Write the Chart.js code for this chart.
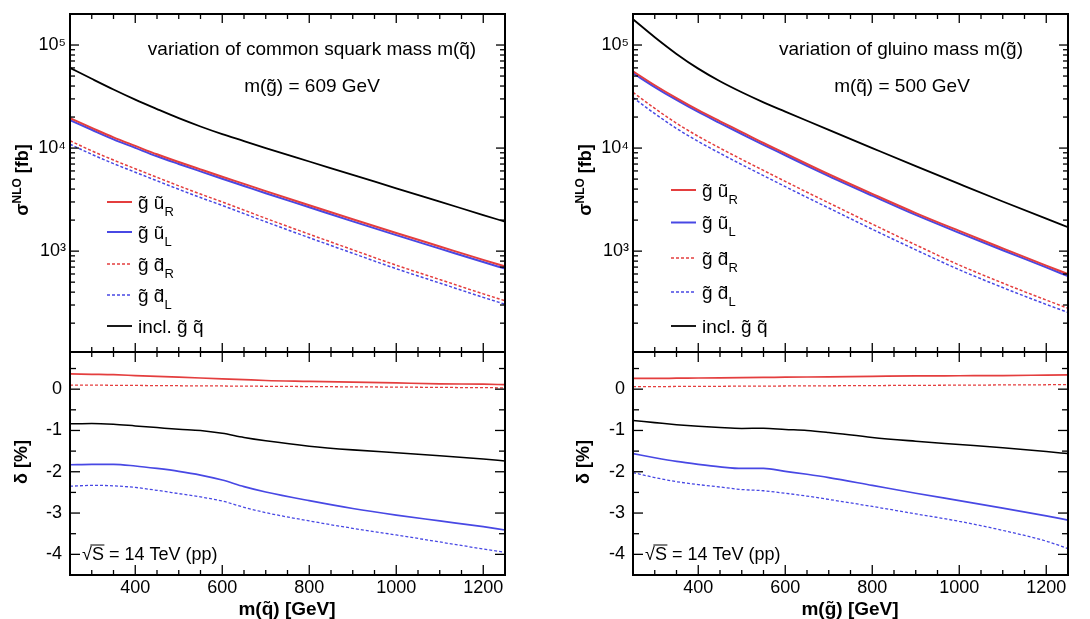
<!DOCTYPE html>
<html><head><meta charset="utf-8">
<script src="https://cdn.jsdelivr.net/npm/chart.js@4.4.1/dist/chart.umd.min.js"></script>
<style>
html,body{margin:0;padding:0;background:#fff;}
#wrap{position:relative;width:1090px;height:619px;overflow:hidden;background:#fff;}
canvas{position:absolute;}
</style></head><body>
<div id="wrap">
<canvas id="ul" width="545" height="360" style="left:0;top:0"></canvas>
<canvas id="ur" width="545" height="360" style="left:545px;top:0"></canvas>
<canvas id="ll" width="545" height="267" style="left:0;top:352px"></canvas>
<canvas id="lr" width="545" height="267" style="left:545px;top:352px"></canvas>
</div>
<script>
// ---------- data ----------
const massGeV = [250,300,350,400,450,500,550,600,650,700,800,900,1000,1100,1200,1250];

// sigma NLO [fb], variation of squark mass, m(gluino)=609 GeV
const sqUR   = [19500,15700,12700,10500,8700,7330,6210,5270,4490,3820,2790,2040,1500,1110,822,711];
const sqUL   = [18700,15050,12150,10050,8320,7010,5940,5040,4290,3650,2665,1945,1430,1058,783,677];
const sqDR   = [11800,9400,7650,6300,5200,4300,3580,3000,2500,2080,1460,1030,730,530,385,330];
const sqDL   = [10900,8700,7070,5830,4810,3980,3310,2775,2310,1925,1350,953,675,490,356,305];
const sqIncl = [60000,47000,37000,29500,23900,19500,16200,13650,11700,10000,7410,5500,4070,3020,2240,1930];

// sigma NLO [fb], variation of gluino mass, m(squark)=500 GeV
const glUR   = [55600,40700,30500,23300,18200,14300,11200,8870,7010,5570,3590,2340,1570,1064,724,598];
const glUL   = [53400,39100,29300,22400,17500,13700,10750,8520,6730,5350,3450,2245,1505,1020,695,572];
const glDR   = [34700,24300,17400,13000,10000,7760,6070,4750,3730,2940,1830,1150,733,490,335,279];
const glDL   = [30900,21600,15500,11600,8900,6910,5400,4230,3320,2620,1630,1030,660,443,304,254];
const glIncl = [177800,119000,82000,59000,44500,34800,27800,22600,18400,15000,10000,6680,4490,3030,2065,1710];

// delta [%], squark-mass variation
const dSqUR   = [0.37,0.36,0.35,0.33,0.31,0.29,0.27,0.25,0.23,0.21,0.19,0.17,0.15,0.13,0.12,0.11];
const dSqUL   = [-1.83,-1.82,-1.82,-1.86,-1.92,-1.99,-2.08,-2.2,-2.36,-2.49,-2.7,-2.89,-3.05,-3.19,-3.33,-3.41];
const dSqDR   = [0.10,0.097,0.094,0.09,0.087,0.083,0.08,0.077,0.073,0.07,0.063,0.056,0.05,0.043,0.036,0.033];
const dSqDL   = [-2.35,-2.33,-2.34,-2.38,-2.45,-2.53,-2.61,-2.71,-2.86,-2.99,-3.19,-3.37,-3.53,-3.7,-3.87,-3.95];
const dSqIncl = [-0.84,-0.83,-0.85,-0.89,-0.93,-0.97,-1.0,-1.07,-1.17,-1.25,-1.38,-1.47,-1.54,-1.61,-1.69,-1.74];

// delta [%], gluino-mass variation
const dGlUR   = [0.26,0.26,0.265,0.27,0.275,0.28,0.285,0.29,0.295,0.3,0.31,0.32,0.325,0.33,0.34,0.345];
const dGlUL   = [-1.56,-1.66,-1.75,-1.82,-1.88,-1.92,-1.92,-1.99,-2.06,-2.14,-2.33,-2.52,-2.7,-2.88,-3.07,-3.17];
const dGlDR   = [0.06,0.062,0.065,0.067,0.07,0.072,0.075,0.077,0.08,0.082,0.087,0.092,0.097,0.102,0.107,0.11];
const dGlDL   = [-2.02,-2.14,-2.24,-2.31,-2.37,-2.43,-2.46,-2.52,-2.59,-2.67,-2.84,-3.02,-3.2,-3.42,-3.68,-3.86];
const dGlIncl = [-0.76,-0.81,-0.86,-0.9,-0.93,-0.95,-0.945,-0.975,-1.0,-1.05,-1.17,-1.26,-1.34,-1.42,-1.51,-1.56];

// ticks
const logTickValues = [1e3,1e4,1e5];
const logTickLabels = ['10\u00B3','10\u2074','10\u2075'];
const deltaTickValues = [-4,-3,-2,-1,0];
const deltaTickLabels = ['-4','-3','-2','-1','0'];
const massTickValues = [400,600,800,1000,1200];
const massTickLabels = ['400','600','800','1000','1200'];

// texts
const seriesNames = ['u_R','u_L','d_R','d_L','incl'];
const legendParts = [
  [['g\u0303 \u0169',0],['R',1]],
  [['g\u0303 \u0169',0],['L',1]],
  [['g\u0303 d\u0303',0],['R',1]],
  [['g\u0303 d\u0303',0],['L',1]],
  [['incl. g\u0303 q\u0303',0]]
];

// ---------- style ----------
const FONT = '"Liberation Sans", Arial, Helvetica, sans-serif';
const RED = 'rgb(228,62,62)', BLUE = 'rgb(72,72,228)', BLACK = '#000';
const seriesStyle = [
  {color:RED, dash:[], w:2},
  {color:BLUE, dash:[], w:2},
  {color:RED, dash:[3,2], w:1.5},
  {color:BLUE, dash:[3,2], w:1.5},
  {color:BLACK, dash:[], w:1.8}
];
const xMinorTicks = [300,350,450,500,550,650,700,750,850,900,950,1050,1100,1150];
const logMinorTicks = [];
[100,1000,10000].forEach(d => { for (let k=2;k<=9;k++) logMinorTicks.push(k*d); });
const deltaMinorTicks = [-3.5,-2.5,-1.5,-0.5,0.5];

const tickSpecs = {
  ul: {xMajor: massTickValues, xMinor: xMinorTicks, yMajor: logTickValues, yMinor: logMinorTicks, xMaj: 9, xMin: 5, yMaj: 9, yMin: 5},
  ur: {xMajor: massTickValues, xMinor: xMinorTicks, yMajor: logTickValues, yMinor: logMinorTicks, xMaj: 9, xMin: 5, yMaj: 9, yMin: 5},
  ll: {xMajor: massTickValues, xMinor: xMinorTicks, yMajor: deltaTickValues, yMinor: deltaMinorTicks, xMaj: 10, xMin: 5, yMaj: 10, yMin: 6},
  lr: {xMajor: massTickValues, xMinor: xMinorTicks, yMajor: deltaTickValues, yMinor: deltaMinorTicks, xMaj: 10, xMin: 5, yMaj: 10, yMin: 6}
};
const drawFns = {};

function makeSets(arrs, lw) {
  return arrs.map((arr, i) => ({
    label: seriesNames[i],
    data: massGeV.map((m, j) => ({x: m, y: arr[j]})),
    borderColor: seriesStyle[i].color,
    borderDash: seriesStyle[i].dash.slice(),
    borderWidth: seriesStyle[i].w * lw,
    pointRadius: 0,
    fill: false,
    cubicInterpolationMode: 'monotone'
  }));
}

function drawFrameTicks(chart) {
  const o = tickSpecs[chart.canvas.id];
  const ctx = chart.ctx, a = chart.chartArea;
  const xs = chart.scales.x, ys = chart.scales.y;
  const tw = 1.3;
  ctx.save();
  ctx.globalAlpha = 1;
  ctx.fillStyle = '#000000';
  const xTick = (v, len) => {
    const p = xs.getPixelForValue(v);
    ctx.fillRect(p - tw/2, a.bottom - len, tw, len);
    ctx.fillRect(p - tw/2, a.top, tw, len);
  };
  const yTick = (v, len) => {
    const p = ys.getPixelForValue(v);
    if (!(p >= a.top - 0.5 && p <= a.bottom + 0.5)) return;
    ctx.fillRect(a.left, p - tw/2, len, tw);
    ctx.fillRect(a.right - len, p - tw/2, len, tw);
  };
  for (const v of o.xMajor) xTick(v, o.xMaj);
  for (const v of o.xMinor) xTick(v, o.xMin);
  for (const v of o.yMajor) yTick(v, o.yMaj);
  for (const v of o.yMinor) yTick(v, o.yMin);
  // frame
  ctx.fillRect(a.left - 1, a.top - 1, a.right - a.left + 2, 2);
  ctx.fillRect(a.left - 1, a.bottom - 1, a.right - a.left + 2, 2);
  ctx.fillRect(a.left - 1, a.top - 1, 2, a.bottom - a.top + 2);
  ctx.fillRect(a.right - 1, a.top - 1, 2, a.bottom - a.top + 2);
  ctx.restore();
}

const decor = {
  id: 'decor',
  afterDraw(chart) {
    const c = chart.ctx;
    drawFrameTicks(chart);
    const f = drawFns[chart.canvas.id];
    if (f) { c.save(); f(chart, c); c.restore(); }
  }
};

function fnt(size, bold) { return (bold ? 'bold ' : '') + size + 'px ' + FONT; }
function drawParts(ctx, x, y, parts) {
  let cx = x;
  for (const p of parts) {
    ctx.font = fnt(p.size, p.bold);
    ctx.fillText(p.t, cx, y + (p.dy || 0));
    cx += ctx.measureText(p.t).width;
  }
  return cx;
}
function partsWidth(ctx, parts) {
  let w = 0;
  for (const p of parts) { ctx.font = fnt(p.size, p.bold); w += ctx.measureText(p.t).width; }
  return w;
}
function centerText(ctx, t, cx, y, size, bold) {
  ctx.font = fnt(size, bold); ctx.textAlign = 'center'; ctx.fillText(t, cx, y); ctx.textAlign = 'left';
}
function rotatedTitle(ctx, parts, bx, cy) {
  ctx.save();
  ctx.translate(bx, cy);
  ctx.rotate(-Math.PI/2);
  const w = partsWidth(ctx, parts);
  drawParts(ctx, -w/2, 0, parts);
  ctx.restore();
}
function drawLegend(chart, ctx, lx0, lx1, tx, rows) {
  ctx.fillStyle = '#000';
  ctx.textBaseline = 'alphabetic';
  chart.data.datasets.forEach((ds, i) => {
    const y = rows[i];
    ctx.save();
    ctx.strokeStyle = ds.borderColor; ctx.lineWidth = ds.borderWidth; ctx.setLineDash(ds.borderDash);
    ctx.beginPath(); ctx.moveTo(lx0, y); ctx.lineTo(lx1, y); ctx.stroke();
    ctx.restore();
    const parts = legendParts[i].map(p => p[1] ? {t:p[0], size:13, dy:7} : {t:p[0], size:19});
    drawParts(ctx, tx, y + 6.5, parts);
  });
}
function sqrtS(ctx, x, y) {
  ctx.fillStyle = '#000';
  ctx.font = fnt(18);
  const wr = ctx.measureText('\u221A').width;
  const ws = ctx.measureText('S').width;
  ctx.fillText('\u221A', x, y);
  ctx.fillText('S', x + wr, y);
  ctx.fillText(' = 14 TeV (pp)', x + wr + ws, y);
  ctx.fillRect(x + wr - 1.5, y - 15, ws + 2, 1);
}

function zeroPad(s) { s.paddingTop = 0; s.paddingBottom = 0; s.paddingLeft = 0; s.paddingRight = 0; }

function upperConfig(sets, yW, padR) {
  return {
    type: 'line',
    data: {datasets: sets},
    options: {
      responsive: false, animation: false, events: [],
      layout: {autoPadding: false, padding: {left: 0, right: padR, top: 14, bottom: 8}},
      scales: {
        x: {type: 'linear', min: 250, max: 1250, display: false},
        y: {
          type: 'logarithmic', min: 105, max: 200000,
          afterFit: s => { s.width = yW; zeroPad(s); },
          afterBuildTicks: s => { s.ticks = logTickValues.map(v => ({value: v})); },
          ticks: {callback: v => { const k = logTickValues.indexOf(v); return k >= 0 ? logTickLabels[k] : ''; },
                  font: {family: FONT, size: 18}, color: '#000', padding: 4},
          grid: {display: false, drawTicks: false}, border: {display: false}
        }
      },
      plugins: {legend: {display: false}, tooltip: {enabled: false}}
    },
    plugins: [decor]
  };
}
function lowerConfig(sets, yW, padR) {
  return {
    type: 'line',
    data: {datasets: sets},
    options: {
      responsive: false, animation: false, events: [],
      layout: {autoPadding: false, padding: {left: 0, right: padR, top: 0, bottom: 0}},
      scales: {
        x: {
          type: 'linear', min: 250, max: 1250,
          afterFit: s => { s.height = 44; zeroPad(s); },
          afterBuildTicks: s => { s.ticks = massTickValues.map(v => ({value: v})); },
          ticks: {callback: v => { const k = massTickValues.indexOf(v); return k >= 0 ? massTickLabels[k] : ''; },
                  font: {family: FONT, size: 18}, color: '#000', padding: 2, maxRotation: 0, autoSkip: false},
          grid: {display: false, drawTicks: false}, border: {display: false}
        },
        y: {
          type: 'linear', min: -4.5, max: 0.9,
          afterFit: s => { s.width = yW; zeroPad(s); },
          afterBuildTicks: s => { s.ticks = deltaTickValues.map(v => ({value: v})); },
          ticks: {callback: v => { const k = deltaTickValues.indexOf(v); return k >= 0 ? deltaTickLabels[k] : ''; },
                  font: {family: FONT, size: 18}, color: '#000', padding: 8},
          grid: {display: false, drawTicks: false}, border: {display: false}
        }
      },
      plugins: {legend: {display: false}, tooltip: {enabled: false}}
    },
    plugins: [decor]
  };
}

const sigmaTitle = [{t:'\u03C3', size:18, bold:true}, {t:'NLO', size:12, bold:true, dy:-7}, {t:' [fb]', size:18, bold:true}];
const deltaTitle = [{t:'\u03B4 [%]', size:18, bold:true}];

drawFns.ul = (chart, ctx) => {
  ctx.fillStyle = '#000'; ctx.textBaseline = 'middle';
  centerText(ctx, 'variation of common squark mass m(q\u0303)', 312, 50, 19);
  centerText(ctx, 'm(g\u0303) = 609 GeV', 312, 87, 19);
  drawLegend(chart, ctx, 107, 132, 138, [202, 232, 264, 295, 326]);
  ctx.textBaseline = 'alphabetic';
  rotatedTitle(ctx, sigmaTitle, 28, 180);
};
drawFns.ur = (chart, ctx) => {
  ctx.fillStyle = '#000'; ctx.textBaseline = 'middle';
  centerText(ctx, 'variation of gluino mass m(g\u0303)', 356, 50, 19);
  centerText(ctx, 'm(q\u0303) = 500 GeV', 357, 87, 19);
  drawLegend(chart, ctx, 126, 151, 157, [190, 222.5, 258, 292, 326]);
  ctx.textBaseline = 'alphabetic';
  rotatedTitle(ctx, sigmaTitle, 46, 180);
};
drawFns.ll = (chart, ctx) => {
  ctx.textBaseline = 'alphabetic';
  sqrtS(ctx, 82, 207.5);
  rotatedTitle(ctx, deltaTitle, 27, 110);
  centerText(ctx, 'm(q\u0303) [GeV]', 287, 263, 19, true);
};
drawFns.lr = (chart, ctx) => {
  ctx.textBaseline = 'alphabetic';
  sqrtS(ctx, 100, 207.5);
  rotatedTitle(ctx, deltaTitle, 44, 110);
  centerText(ctx, 'm(g\u0303) [GeV]', 305, 263, 19, true);
};

new Chart(document.getElementById('ul'), upperConfig(makeSets([sqUR, sqUL, sqDR, sqDL, sqIncl], 1), 70, 40));
new Chart(document.getElementById('ur'), upperConfig(makeSets([glUR, glUL, glDR, glDL, glIncl], 1), 88, 22));
new Chart(document.getElementById('ll'), lowerConfig(makeSets([dSqUR, dSqUL, dSqDR, dSqDL, dSqIncl], 0.85), 70, 40));
new Chart(document.getElementById('lr'), lowerConfig(makeSets([dGlUR, dGlUL, dGlDR, dGlDL, dGlIncl], 0.85), 88, 22));
</script>
</body></html>
